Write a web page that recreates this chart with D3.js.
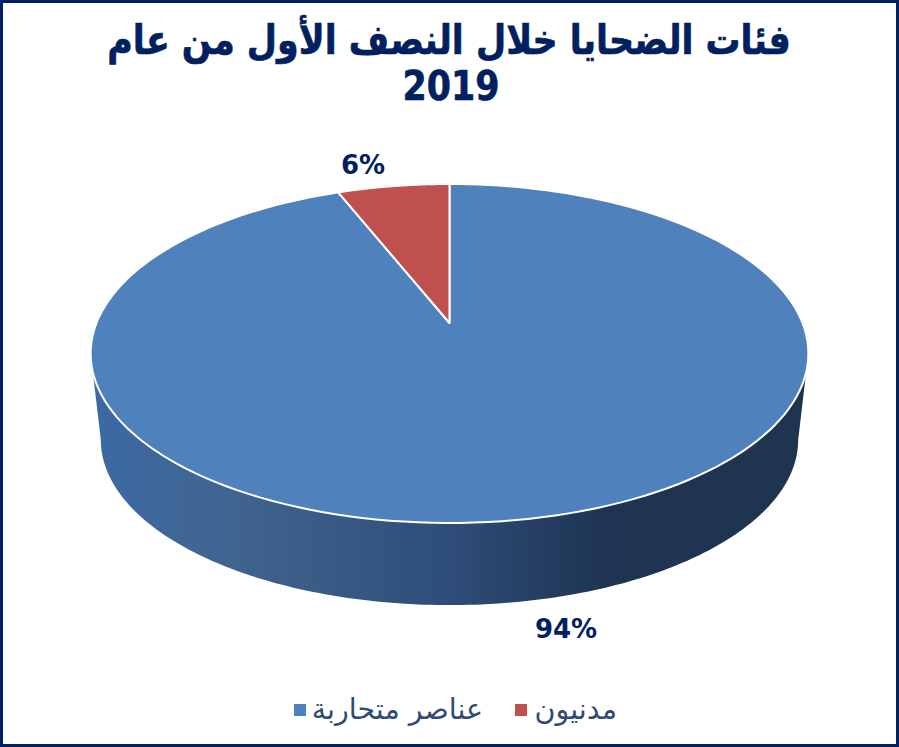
<!DOCTYPE html>
<html>
<head>
<meta charset="utf-8">
<script src="https://cdnjs.cloudflare.com/ajax/libs/d3/7.8.5/d3.min.js"></script>
<style>
  html, body { margin: 0; padding: 0; background: #fff; }
  svg { display: block; }
  text { font-family: "DejaVu Sans", sans-serif; }
</style>
</head>
<body>
<div id="chart"></div>
<script>
const categories = ["عناصر متحاربة", "مدنيون"];
const values = [94, 6];
const titleLines = ["فئات الضحايا خلال النصف الأول من عام", "2019"];

const width = 899, height = 747;
const navy = "#002060";
const colors = d3.scaleOrdinal().domain(categories).range(["#4f81bd", "#c0504d"]);

const svg = d3.select("#chart").append("svg")
    .attr("width", width)
    .attr("height", height);

svg.append("rect")
    .attr("x", 1.5).attr("y", 1.5)
    .attr("width", width - 3).attr("height", height - 3)
    .attr("fill", "#fff")
    .attr("stroke", navy)
    .attr("stroke-width", 3);

// title, squeezed to the taller proportions of the original face
svg.selectAll(".title")
    .data(titleLines)
    .enter().append("text")
    .attr("class", "title")
    .attr("transform", (d, i) => `translate(${449 + i * 2},${54 + i * 45.5}) scale(0.968,1.13)`)
    .attr("text-anchor", "middle")
    .attr("direction", "rtl")
    .attr("font-size", 36)
    .attr("font-weight", "bold")
    .attr("fill", navy)
    .attr("stroke", navy)
    .attr("stroke-width", 0.6)
    .text(d => d);

// the 3d look: a circle pushed through a perspective projection, k is the tilt
const k = 0.18;
function project(plane, angle) {
    const w = 1 + k * Math.cos(angle);
    return [plane.cx + plane.b * Math.sin(angle) / w, plane.cy - plane.a * Math.cos(angle) / w];
}
const topPlane = {cx: 449.5, cy: 323, a: 164, b: 353};
const basePlane = {cx: 449.5, cy: 410, a: 160, b: 343};

const line = d3.line();
const pie = d3.pie().sort(null).value(d => d.value);
const slices = pie(categories.map((c, i) => ({name: c, value: values[i]})));

function rim(plane, a0, a1) {
    return d3.range(0, 181).map(i => project(plane, a0 + (a1 - a0) * i / 180));
}

// side wall, shaded from left to right
const defs = svg.append("defs");
const grad = defs.append("linearGradient")
    .attr("id", "wall")
    .attr("gradientUnits", "userSpaceOnUse")
    .attr("x1", 92).attr("x2", 808).attr("y1", 0).attr("y2", 0);
grad.selectAll("stop")
    .data([[0, "#3c6aa5"], [0.2, "#40648f"], [0.5, "#2e4d78"], [0.72, "#1e3452"], [1, "#1f344e"]])
    .enter().append("stop")
    .attr("offset", d => d[0])
    .attr("stop-color", d => d[1]);

// wall runs between the widest points of the two rims
const sideFrom = Math.acos(-k), sideTo = 2 * Math.PI - sideFrom;
svg.append("path")
    .attr("d", line(rim(topPlane, sideFrom, sideTo).concat(rim(basePlane, sideTo, sideFrom))) + "Z")
    .attr("fill", "url(#wall)");

// top face
svg.selectAll(".slice")
    .data(slices)
    .enter().append("path")
    .attr("class", "slice")
    .attr("d", d => line([[topPlane.cx, topPlane.cy]].concat(rim(topPlane, d.startAngle, d.endAngle))) + "Z")
    .attr("fill", d => colors(d.data.name))
    .attr("stroke", "#fff")
    .attr("stroke-width", 2)
    .attr("stroke-linejoin", "round");

// value labels
const labelPos = [[566, 638], [363, 174]];
svg.selectAll(".value")
    .data(slices)
    .enter().append("text")
    .attr("class", "value")
    .attr("x", (d, i) => labelPos[i][0])
    .attr("y", (d, i) => labelPos[i][1])
    .attr("text-anchor", "middle")
    .attr("font-size", 26)
    .attr("font-weight", "bold")
    .attr("fill", navy)
    .text(d => d.value + "%");

// legend
const legendX = [294, 515];
const legendTextX = [483, 617];
const legend = svg.selectAll(".legend")
    .data(categories)
    .enter().append("g")
    .attr("class", "legend");
legend.append("rect")
    .attr("x", (d, i) => legendX[i])
    .attr("y", 704)
    .attr("width", 12)
    .attr("height", 12)
    .attr("fill", d => colors(d));
legend.append("text")
    .attr("x", (d, i) => legendTextX[i])
    .attr("y", 719)
    .attr("text-anchor", "start")
    .attr("direction", "rtl")
    .attr("font-size", 28.5)
    .attr("fill", "#2f4b75")
    .text(d => d);
</script>
</body>
</html>
